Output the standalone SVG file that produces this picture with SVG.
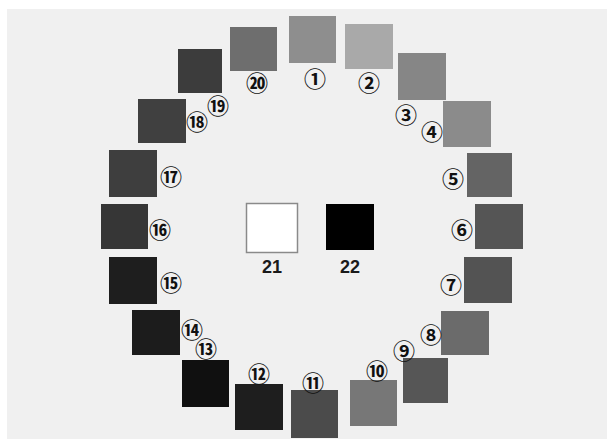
<svg xmlns="http://www.w3.org/2000/svg" width="607" height="439" viewBox="0 0 607 439">
<style>
.sq{stroke:none}
.lb{font-family:"Noto Sans CJK JP","DejaVu Sans",sans-serif;font-size:22px;font-weight:bold;fill:#111;text-anchor:middle;dominant-baseline:central}
.big{font-family:"Liberation Sans",Arial,sans-serif;font-size:18px;font-weight:bold;fill:#1a1a1a;text-anchor:middle}
</style>
<rect x="0" y="0" width="607" height="439" fill="#ffffff"/>
<rect x="7" y="9" width="600" height="430" fill="#f0f0f0"/>
<g id="connectors"></g>
<g id="n1"><rect class="sq" x="289" y="16" width="47" height="47" fill="#8e8e8e"/><text class="lb" x="315" y="77">①</text></g>
<g id="n2"><rect class="sq" x="345" y="24" width="48" height="45" fill="#a9a9a9"/><text class="lb" x="369" y="81">②</text></g>
<g id="n3"><rect class="sq" x="398" y="53" width="48" height="47" fill="#868686"/><text class="lb" x="406" y="113">③</text></g>
<g id="n4"><rect class="sq" x="443" y="101" width="48" height="46" fill="#8b8b8b"/><text class="lb" x="432" y="130">④</text></g>
<g id="n5"><rect class="sq" x="467" y="153" width="45" height="44" fill="#646464"/><text class="lb" x="453" y="177">⑤</text></g>
<g id="n6"><rect class="sq" x="475" y="204" width="48" height="45" fill="#555555"/><text class="lb" x="462" y="228">⑥</text></g>
<g id="n7"><rect class="sq" x="464" y="257" width="48" height="46" fill="#535353"/><text class="lb" x="451" y="283">⑦</text></g>
<g id="n8"><rect class="sq" x="441" y="311" width="48" height="44" fill="#6b6b6b"/><text class="lb" x="431" y="333">⑧</text></g>
<g id="n9"><rect class="sq" x="403" y="358" width="45" height="45" fill="#565656"/><text class="lb" x="404" y="349">⑨</text></g>
<g id="n10"><rect class="sq" x="350" y="380" width="47" height="46" fill="#777777"/><text class="lb" x="377" y="369">⑩</text></g>
<g id="n11"><rect class="sq" x="291" y="390" width="47" height="48" fill="#4b4b4b"/><text class="lb" x="313" y="381">⑪</text></g>
<g id="n12"><rect class="sq" x="235" y="384" width="48" height="46" fill="#1e1e1e"/><text class="lb" x="259" y="372">⑫</text></g>
<g id="n13"><rect class="sq" x="182" y="360" width="47" height="47" fill="#101010"/><text class="lb" x="206" y="347">⑬</text></g>
<g id="n14"><rect class="sq" x="132" y="310" width="48" height="45" fill="#1c1c1c"/><text class="lb" x="192" y="328">⑭</text></g>
<g id="n15"><rect class="sq" x="109" y="257" width="48" height="47" fill="#1e1e1e"/><text class="lb" x="171" y="281">⑮</text></g>
<g id="n16"><rect class="sq" x="101" y="204" width="47" height="45" fill="#363636"/><text class="lb" x="160" y="228">⑯</text></g>
<g id="n17"><rect class="sq" x="109" y="150" width="48" height="47" fill="#3e3e3e"/><text class="lb" x="171" y="175">⑰</text></g>
<g id="n18"><rect class="sq" x="138" y="99" width="48" height="44" fill="#404040"/><text class="lb" x="197" y="120">⑱</text></g>
<g id="n19"><rect class="sq" x="178" y="49" width="44" height="44" fill="#3c3c3c"/><text class="lb" x="218" y="104">⑲</text></g>
<g id="n20"><rect class="sq" x="230" y="27" width="47" height="44" fill="#6e6e6e"/><text class="lb" x="257" y="81">⑳</text></g>
<g id="n21"><rect x="246.5" y="203.5" width="51" height="49" fill="#ffffff" stroke="#8a8a8a" stroke-width="1.5"/><text class="big" x="272" y="273">21</text></g>
<g id="n22"><rect class="sq" x="326" y="204" width="48" height="46" fill="#000000"/><text class="big" x="350" y="273">22</text></g>
</svg>
